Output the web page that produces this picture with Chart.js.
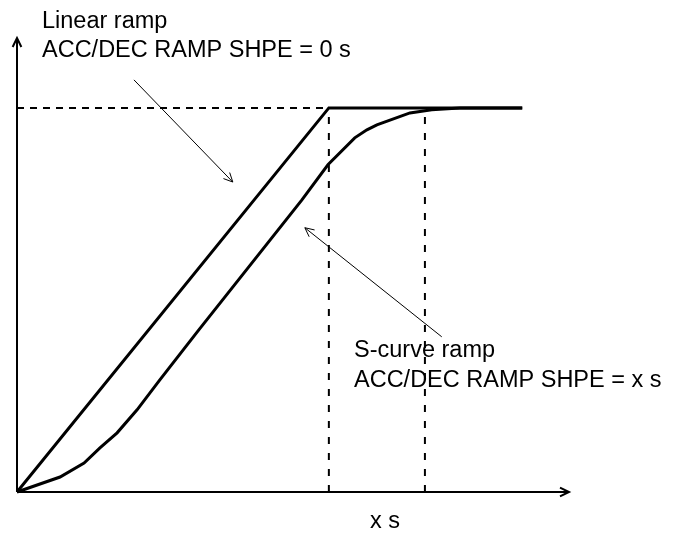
<!DOCTYPE html>
<html>
<head>
<meta charset="utf-8">
<style>
  html, body { margin: 0; padding: 0; background: #fff; }
  #wrap { width: 678px; height: 534px; }
</style>
<script src="https://cdn.jsdelivr.net/npm/chart.js@4/dist/chart.umd.min.js"></script>
</head>
<body>
<div id="wrap"><canvas id="ramp"></canvas></div>
<script>
// ===== DATA (time units on x, percent of speed on y) =====
const xMax = 17.7;
const yMax = 118.2;

const linearX = [0, 10, 16.2];
const linearY = [0, 100, 100];

const sCurveX = [0, 1.38, 2.15, 2.66, 3.21, 3.85, 4.58, 5.83, 9.13, 9.97, 10.83, 11.22, 11.54, 12.6, 13.3, 14.2, 16.2];
const sCurveY = [0, 3.9, 7.55, 11.46, 15.4, 21.4, 29.2, 42.2, 76.0, 85.2, 92.2, 94.3, 95.6, 98.7, 99.5, 100, 100];

const levelX = [0, 10];
const levelY = [100, 100];
const linearEndX = [10, 10];
const sCurveEndX = [13.08, 13.08];
const guideY = [0, 100];

const toPoints = (xs, ys) => xs.map((x, i) => ({ x: x, y: ys[i] }));

// Axes with arrow tips + annotation texts
const decorPlugin = {
    id: 'decor',
    afterDatasetsDraw(chart) {
        const ctx = chart.ctx;
        const xs = chart.scales.x;
        const ys = chart.scales.y;
        const px = v => xs.getPixelForValue(v);
        const py = v => ys.getPixelForValue(v);

        const arrowHead = (x1, y1, x2, y2, len) => {
            const a = Math.atan2(y2 - y1, x2 - x1);
            ctx.beginPath();
            ctx.moveTo(x2 - len * Math.cos(a - 0.45), y2 - len * Math.sin(a - 0.45));
            ctx.lineTo(x2, y2);
            ctx.lineTo(x2 - len * Math.cos(a + 0.45), y2 - len * Math.sin(a + 0.45));
            ctx.stroke();
        };
        const arrow = (x1, y1, x2, y2, w, len) => {
            ctx.lineWidth = w;
            ctx.beginPath();
            ctx.moveTo(x1, y1);
            ctx.lineTo(x2, y2);
            ctx.stroke();
            arrowHead(x1, y1, x2, y2, len);
        };

        ctx.save();
        ctx.strokeStyle = '#000';
        ctx.setLineDash([]);

        // Axes
        arrow(px(0), py(0), px(xMax), py(0), 2, 10);
        arrow(px(0), py(0), px(0), py(yMax), 2, 10);

        // Annotation pointers
        arrow(px(3.75), py(107.3), px(6.92), py(80.7), 1, 10);
        arrow(px(13.62), py(40.4), px(9.23), py(68.8), 1, 10);

        // Texts
        ctx.fillStyle = '#000';
        ctx.font = '23.5px "Liberation Sans", Arial, sans-serif';
        ctx.textBaseline = 'alphabetic';
        ctx.textAlign = 'left';
        ctx.fillText('Linear ramp', 42, 28);
        ctx.fillText('ACC/DEC RAMP SHPE = 0 s', 42, 57);
        ctx.fillText('S-curve ramp', 354, 357);
        ctx.fillText('ACC/DEC RAMP SHPE = x s', 354, 387);
        ctx.fillText('x s', 370, 528);
        ctx.restore();
    }
};

const dashed = (data, dash) => ({
    data: data,
    borderColor: '#000',
    borderWidth: 2,
    borderDash: dash,
    pointRadius: 0,
    showLine: true,
    fill: false
});

new Chart(document.getElementById('ramp'), {
    type: 'scatter',
    data: {
        datasets: [
            dashed(toPoints(levelX, levelY), [7, 6]),
            dashed(toPoints(linearEndX, guideY), [7, 9]),
            dashed(toPoints(sCurveEndX, guideY), [7, 9]),
            {
                label: 'Linear ramp',
                data: toPoints(linearX, linearY),
                borderColor: '#000',
                borderWidth: 3,
                pointRadius: 0,
                showLine: true,
                borderJoinStyle: 'miter'
            },
            {
                label: 'S-curve ramp',
                data: toPoints(sCurveX, sCurveY),
                borderColor: '#000',
                borderWidth: 3,
                pointRadius: 0,
                showLine: true,
                tension: 0
            }
        ]
    },
    options: {
        responsive: true,
        maintainAspectRatio: false,
        animation: false,
        clip: false,
        layout: {
            padding: { left: 17, right: 109, top: 38, bottom: 42 }
        },
        plugins: {
            legend: { display: false },
            tooltip: { enabled: false }
        },
        scales: {
            x: { type: 'linear', min: 0, max: xMax, display: false },
            y: { type: 'linear', min: 0, max: yMax, display: false }
        }
    },
    plugins: [decorPlugin]
});
</script>
</body>
</html>
